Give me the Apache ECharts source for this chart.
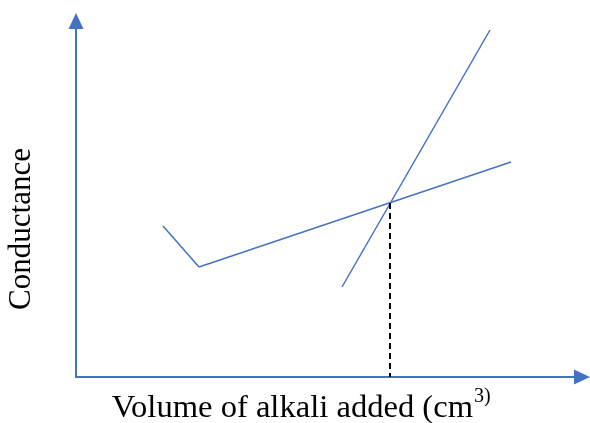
<!DOCTYPE html>
<html>
<head>
<meta charset="utf-8">
<script src="https://cdn.jsdelivr.net/npm/echarts@6/dist/echarts.min.js"></script>
<style>html,body{margin:0;padding:0;background:#fff;}#c{width:590px;height:423px;}</style>
</head>
<body>
<div id="c"></div>
<script>
// Data (arbitrary units; no tick labels in the original)
const xTitle = 'Volume of alkali added (cm';
const xTitleSup = '3)';
const yTitle = 'Conductance';
const descendingLine = [[87, 151], [123, 110]];
const slowRiseLine = [[123, 110], [435, 215]];
const steepRiseLine = [[266, 90], [414, 347]];
const endPointX = [314, 314];
const endPointY = [174, 0];

const blue = '#4472C4';
const chart = echarts.init(document.getElementById('c'));
chart.setOption({
  animation: false,
  grid: { left: 76, right: 8, top: 21, bottom: 46 },
  xAxis: {
    type: 'value', min: 0, max: 506,
    splitLine: { show: false }, axisTick: { show: false }, axisLabel: { show: false },
    axisLine: { onZero: false, lineStyle: { color: blue, width: 2 }, symbol: ['none', 'triangle'], symbolSize: [15, 16] }
  },
  yAxis: {
    type: 'value', min: 0, max: 356,
    splitLine: { show: false }, axisTick: { show: false }, axisLabel: { show: false },
    axisLine: { show: true, onZero: false, lineStyle: { color: blue, width: 2 }, symbol: ['none', 'triangle'], symbolSize: [15, 16] }
  },
  series: [
    { type: 'line', data: descendingLine, showSymbol: false, symbol: 'none', lineStyle: { color: blue, width: 1.5 } },
    { type: 'line', data: slowRiseLine, showSymbol: false, symbol: 'none', lineStyle: { color: blue, width: 1.5 } },
    { type: 'line', data: steepRiseLine, showSymbol: false, symbol: 'none', lineStyle: { color: blue, width: 1.5 } },
    { type: 'line', data: endPointX.map((x, i) => [x, endPointY[i]]), showSymbol: false, symbol: 'none',
      lineStyle: { color: '#000', width: 2, type: [6, 4] } }
  ],
  graphic: [
    { type: 'text', x: 473, y: 408, style: {
        text: xTitle, fill: '#000',
        font: '32.6px "Liberation Serif"', align: 'right', verticalAlign: 'middle'
    } },
    { type: 'text', x: 474, y: 396.5, style: {
        text: xTitleSup, fill: '#000',
        font: '20px "Liberation Serif"', align: 'left', verticalAlign: 'middle'
    } },
    { type: 'text', x: 22, y: 229, rotation: Math.PI / 2, style: {
        text: yTitle, fill: '#000', font: '31px "Liberation Serif"', align: 'center', verticalAlign: 'middle'
    } }
  ]
});
</script>
</body>
</html>
